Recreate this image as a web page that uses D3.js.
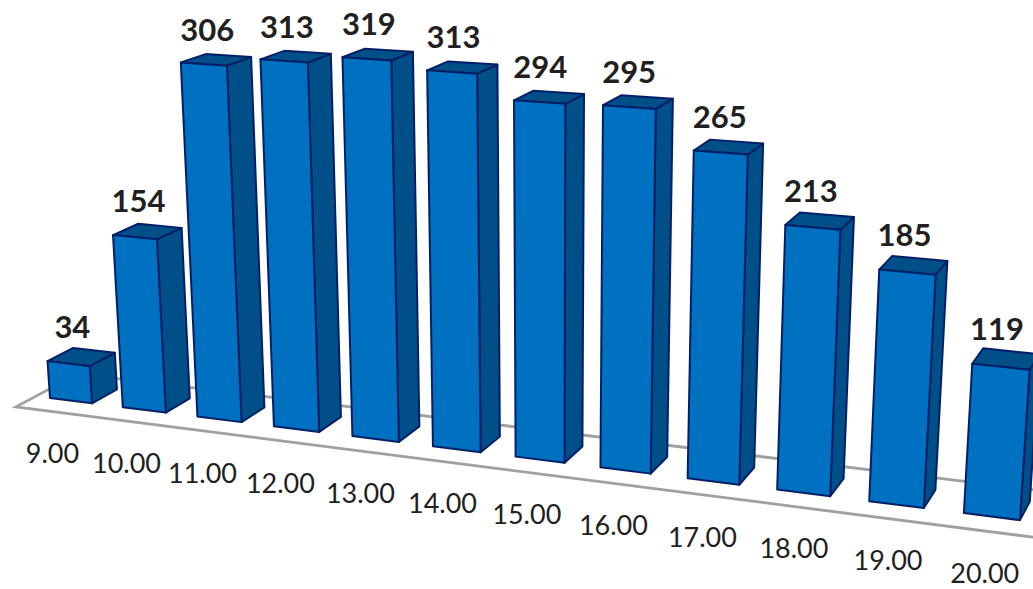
<!DOCTYPE html>
<html><head><meta charset="utf-8">
<script src="https://cdn.jsdelivr.net/npm/d3@7"></script>
<style>html,body{margin:0;padding:0;background:#fff;overflow:hidden}svg{display:block}</style>
</head><body><div id="chart"></div>
<script>
const categories = ["9.00","10.00","11.00","12.00","13.00","14.00","15.00","16.00","17.00","18.00","19.00","20.00"];
const values = [34,154,306,313,319,313,294,295,265,213,185,119];

const W = 1033, H = 589;
const svg = d3.select("#chart").append("svg").attr("width",W).attr("height",H);

// world axes: category slot, value height, depth
const slot = d3.scalePoint().domain(categories).range([0,categories.length-1]);
const height = d3.scaleLinear().domain([0,100]).range([0,100]);
const barWidth = 0.58;

// perspective camera (homogeneous projection of world to the page)
function project(X,Y,Z){
  const w = 1 - 0.01222*X - 0.000144*Y + 0.0179*Z;
  return [ (50 + 71.3*X - 0.079*Y + 26.85*Z)/w,
           (398 + 4.19*X - 1.1376*Y - 6.91*Z)/w ];
}
const path = d3.line();
const poly = pts => path(pts.map(p=>project(...p)))+"Z";

// floor outline
const floorFront=-0.75, floorBack=1.65, floorLeft=-0.197, floorRight=12.4;
svg.append("path")
  .attr("d",path([[floorRight,0,floorBack],[floorLeft,0,floorBack],[floorLeft,0,floorFront],[floorRight,0,floorFront]].map(p=>project(...p))))
  .attr("fill","none").attr("stroke","#A0A0A0").attr("stroke-width",2.8).attr("stroke-linejoin","miter");

const stroke="#001F66", front="#0070C0", dark="#004F88";
const bars = svg.selectAll("g.bar").data(categories.map((c,i)=>({c,v:values[i]}))).join("g").attr("class","bar");
bars.each(function(d){
  const g=d3.select(this), x0=slot(d.c), x1=x0+barWidth, y=height(d.v);
  const face=(pts,fill)=>g.append("path").attr("d",poly(pts)).attr("fill",fill)
     .attr("stroke",stroke).attr("stroke-width",2).attr("stroke-linejoin","round");
  face([[x1,0,0],[x1,0,1],[x1,y,1],[x1,y,0]],dark);
  face([[x0,y,0],[x1,y,0],[x1,y,1],[x0,y,1]],dark);
  face([[x0,0,0],[x1,0,0],[x1,y,0],[x0,y,0]],front);
});

// value labels
svg.selectAll("text.val").data(categories.map((c,i)=>({c,v:values[i]}))).join("text").attr("class","val")
  .attr("x",d=>project(slot(d.c)+barWidth/2,height(d.v),0.5)[0]-9)
  .attr("y",d=>project(slot(d.c)+barWidth/2,height(d.v),0.5)[1]-31)
  .attr("text-anchor","middle").attr("dominant-baseline","central")
  .attr("font-family","Lato").attr("font-weight",700).attr("font-size",31).attr("fill","#231F20")
  .text(d=>d.v);

// category labels
svg.selectAll("text.cat").data(categories).join("text").attr("class","cat")
  .attr("x",c=>project(slot(c)+barWidth/2,0,floorFront)[0]+1)
  .attr("y",c=>project(slot(c)+barWidth/2,0,floorFront)[1]+41.5)
  .attr("text-anchor","middle").attr("dominant-baseline","central")
  .attr("font-family","Lato").attr("font-size",27).attr("fill","#231F20")
  .text(c=>c);
</script></body></html>
